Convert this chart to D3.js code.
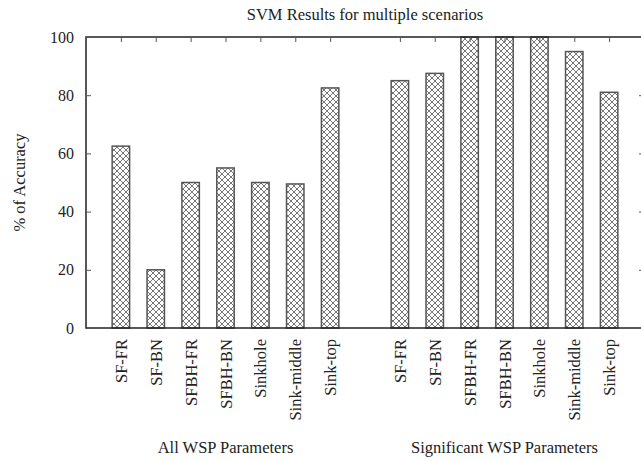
<!DOCTYPE html>
<html>
<head>
<meta charset="utf-8">
<script src="https://cdn.jsdelivr.net/npm/d3@7"></script>
<style>
  body { margin: 0; background: #fff; }
</style>
</head>
<body>
<svg id="chart"></svg>
<script>
// data
const scenarios = ["SF-FR", "SF-BN", "SFBH-FR", "SFBH-BN", "Sinkhole", "Sink-middle", "Sink-top"];
const allParams = [62.5, 20, 50, 55, 50, 49.5, 82.5];
const sigParams = [85, 87.5, 100, 100, 100, 95, 81];
const groupNames = ["All WSP Parameters", "Significant WSP Parameters"];
const yTicks = [0, 20, 40, 60, 80, 100];

const width = 641, height = 461;
const plotL = 86, plotR = 644, plotT = 37, plotB = 328;
const serif = "Liberation Serif, Times New Roman, serif";

const svg = d3.select("#chart").attr("width", width).attr("height", height);

// bars sit at slots 0..6 and 8..14, axis spans slot -1 to 15
let bars = [];
allParams.forEach((v, i) => bars.push({ name: scenarios[i], value: v, slot: i }));
sigParams.forEach((v, i) => bars.push({ name: scenarios[i], value: v, slot: i + 8 }));

const x = d3.scaleLinear().domain([-1, 15]).range([plotL, plotR]);
const y = d3.scaleLinear().domain([0, 100]).range([plotB, plotT]);
const barW = (x(1) - x(0)) * 0.5;

// crosshatch pattern
const defs = svg.append("defs");
const pat = defs.append("pattern")
  .attr("id", "hatch")
  .attr("patternUnits", "userSpaceOnUse")
  .attr("width", 6).attr("height", 6);
pat.append("rect").attr("width", 6).attr("height", 6).attr("fill", "#fff");
pat.append("path")
  .attr("d", "M0,0 L6,6 M6,0 L0,6")
  .attr("stroke", "#666").attr("stroke-width", 0.9);

svg.selectAll(".bar")
  .data(bars).enter()
  .append("rect")
  .attr("class", "bar")
  .attr("x", d => x(d.slot) - barW / 2)
  .attr("y", d => y(d.value))
  .attr("width", barW)
  .attr("height", d => y(0) - y(d.value))
  .attr("fill", "url(#hatch)")
  .attr("stroke", "#555")
  .attr("stroke-width", 1.5);

// frame
svg.append("rect")
  .attr("x", plotL).attr("y", plotT)
  .attr("width", plotR - plotL).attr("height", plotB - plotT)
  .attr("fill", "none").attr("stroke", "#222").attr("stroke-width", 1.5);

// y ticks, inward on both sides
const yAxisL = d3.axisLeft(y).tickValues(yTicks).tickSizeInner(-5).tickSizeOuter(0).tickPadding(12);
const gl = svg.append("g").attr("transform", `translate(${plotL},0)`).call(yAxisL);
gl.attr("font-family", serif).attr("font-size", 16);
gl.select(".domain").remove();
gl.selectAll(".tick line").attr("stroke", "#555").attr("stroke-width", 1);
gl.selectAll(".tick text").attr("fill", "#222");

const yAxisR = d3.axisRight(y).tickValues(yTicks.slice(1, -1)).tickSize(-5).tickFormat("");
const gr = svg.append("g").attr("transform", `translate(${plotR},0)`).call(yAxisR);
gr.select(".domain").remove();
gr.selectAll(".tick line").attr("stroke", "#555");

// top ticks at every bar
const gt = svg.append("g").attr("transform", `translate(0,${plotT})`)
  .call(d3.axisTop(x).tickValues(bars.map(d => d.slot)).tickSize(-5).tickFormat(""));
gt.select(".domain").remove();
gt.selectAll(".tick line").attr("stroke", "#555");

const labels = svg.append("g").attr("font-family", serif).attr("font-size", 16.5).attr("fill", "#222");

// category labels
labels.selectAll(".cat")
  .data(bars).enter()
  .append("text")
  .attr("class", "cat")
  .attr("transform", d => `translate(${x(d.slot) + 6},${plotB + 11}) rotate(-90)`)
  .attr("text-anchor", "end")
  .text(d => d.name);

// group labels
labels.selectAll(".grp")
  .data(groupNames).enter()
  .append("text")
  .attr("class", "grp")
  .attr("x", (d, i) => x(i === 0 ? 3 : 11))
  .attr("y", 453)
  .attr("text-anchor", "middle")
  .text(d => d);

// title and y label
labels.append("text")
  .attr("x", (plotL + plotR) / 2).attr("y", 20)
  .attr("text-anchor", "middle")
  .text("SVM Results for multiple scenarios");

labels.append("text")
  .attr("transform", `translate(25,${(plotT + plotB) / 2}) rotate(-90)`)
  .attr("text-anchor", "middle")
  .text("% of Accuracy");
</script>
</body>
</html>
